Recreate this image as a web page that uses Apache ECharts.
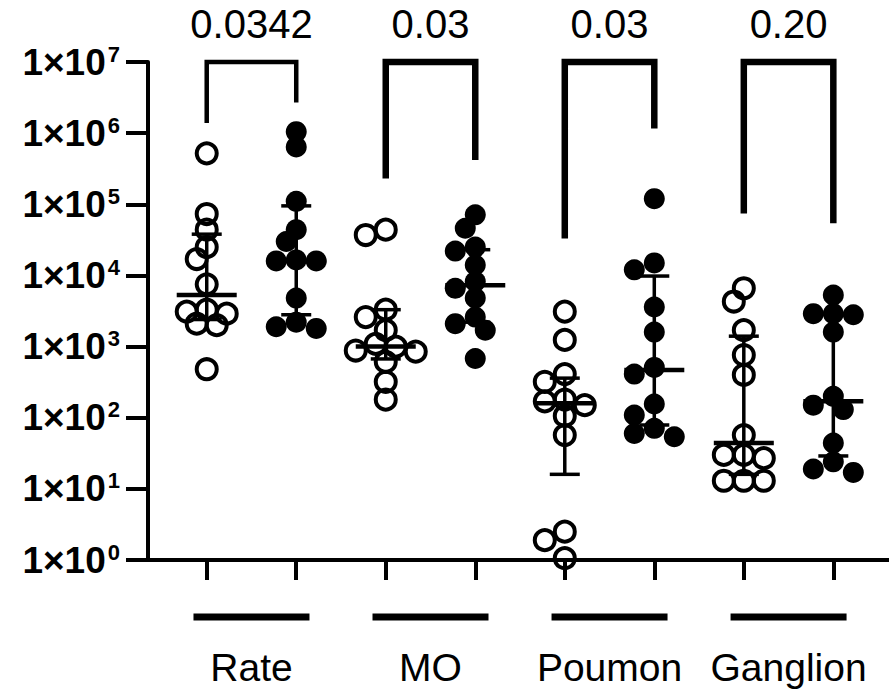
<!DOCTYPE html>
<html><head><meta charset="utf-8">
<script src="https://cdn.jsdelivr.net/npm/echarts@6/dist/echarts.min.js"></script>
<style>html,body{margin:0;padding:0;background:#fff}#c{width:889px;height:691px}</style>
</head><body><div id="c"></div>
<script>
// ---- data ----
const groups = ['Rate', 'MO', 'Poumon', 'Ganglion'];
const pValues = ['0.0342', '0.03', '0.03', '0.20'];
const yTickValues = [1, 10, 100, 1000, 10000, 100000, 1000000, 10000000];

// open circles (first column of each group)
const rateOpen     = [5.2e5, 7.3e4, 4.4e4, 2.5e4, 1.7e4, 7.5e3, 3.3e3, 3.1e3, 2.9e3, 2.1e3, 2.0e3, 480];
const moOpen       = [4.4e4, 3.7e4, 3.3e3, 2.6e3, 1.7e3, 1.09e3, 1.0e3, 880, 850, 610, 320, 180];
const poumonOpen   = [3.1e3, 1.24e3, 410, 320, 180, 170, 150, 106, 57, 2.5, 1.9, 1.06];
const ganglionOpen = [6.6e3, 4.3e3, 1.7e3, 760, 400, 57, 30, 27, 30, 13, 13, 13];
// filled circles (second column of each group)
const rateFilled     = [1.05e6, 6.4e5, 1.1e5, 4.4e4, 3.0e4, 1.65e4, 1.6e4, 1.6e4, 4.8e3, 2.2e3, 1.9e3, 1.8e3];
const moFilled       = [7.1e4, 4.6e4, 2.5e4, 2.2e4, 1.4e4, 8.2e3, 6.6e3, 4.8e3, 2.6e3, 2.1e3, 1.7e3, 680];
const poumonFilled   = [1.2e5, 1.5e4, 1.2e4, 3.6e3, 1.6e3, 510, 410, 156, 109, 71, 60, 54];
const ganglionFilled = [5.3e3, 2.9e3, 2.9e3, 2.8e3, 1.6e3, 200, 150, 130, 44, 24, 19, 17];

// median and interquartile range, per column (open, filled, open, filled ...)
const medians = [5.3e3, 1.6e4, 1.0e3, 7.3e3, 160, 470, 44, 170];
const q1      = [2.4e3, 2.8e3, 670, 2.2e3, 16, 79, 16, 29];
const q3      = [3.8e4, 9.5e4, 3.3e3, 2.3e4, 360, 9.8e3, 1.4e3, 2.9e3];

// significance brackets: leg ends (left / right) and top
const bracketLeftEnd  = [1.39e6, 2.3e5, 3.3e4, 7.4e4];
const bracketRightEnd = [2.7e6, 4.2e5, 1.16e6, 5.4e4];
const bracketTop      = [1e7, 1e7, 1e7, 1e7];

// ---- styles ----
const bracketWidths = [4.5, 6.5, 6.5, 6.5];
const FONT = '"Liberation Sans", Arial, Helvetica, sans-serif';

const openColumns = [rateOpen, moOpen, poumonOpen, ganglionOpen];
const filledColumns = [rateFilled, moFilled, poumonFilled, ganglionFilled];
const colX = (g, k) => g * 2 + k + 1;

const openData = [];
openColumns.forEach((arr, g) => arr.forEach(v => openData.push([colX(g, 0), v])));
const filledData = [];
filledColumns.forEach((arr, g) => arr.forEach(v => filledData.push([colX(g, 1), v])));

const statsData = medians.map((m, i) => [i + 1, m, q1[i], q3[i]]);
const bracketData = groups.map((g, i) => [colX(i, 0), colX(i, 1), bracketLeftEnd[i], bracketRightEnd[i], bracketTop[i], i]);
const groupData = groups.map((g, i) => [colX(i, 0) + 0.5, yTickValues[0], i]);

const chart = echarts.init(document.getElementById('c'), null, {renderer: 'svg'});

const option = {
  animation: false,
  backgroundColor: '#fff',
  grid: {left: 148, top: 62, right: 0, bottom: 131, containLabel: false},
  xAxis: {
    type: 'value', min: 0.344, max: 8.622,
    axisLine: {show: true, onZero: false, lineStyle: {color: '#000', width: 4}},
    axisTick: {show: true, customValues: [1, 2, 3, 4, 5, 6, 7, 8], length: 20, lineStyle: {color: '#000', width: 4}},
    axisLabel: {show: false},
    splitLine: {show: false}
  },
  yAxis: {
    type: 'log', logBase: 10, min: 1, max: 1e7, splitNumber: 7,
    axisLine: {show: true, lineStyle: {color: '#000', width: 4}},
    axisTick: {show: true, length: 22, lineStyle: {color: '#000', width: 4}},
    splitLine: {show: false},
    axisLabel: {
      margin: 28,
      formatter: v => {
        const e = yTickValues.indexOf(v) >= 0 ? yTickValues.indexOf(v) : Math.round(Math.log10(v));
        return '{b|1×10}{s|' + e + '}';
      },
      rich: {
        b: {fontFamily: FONT, fontWeight: 'bold', fontSize: 37, color: '#000', lineHeight: 38},
        s: {fontFamily: FONT, fontWeight: 'bold', fontSize: 22, color: '#000', verticalAlign: 'top', lineHeight: 38, padding: [0, 0, 13, 2]}
      }
    }
  },
  series: [
    {
      type: 'scatter', name: 'open', data: openData, z: 2,
      symbol: 'circle', symbolSize: 20,
      itemStyle: {color: 'rgba(255,255,255,0)', borderColor: '#000', borderWidth: 4, opacity: 1},
      emphasis: {disabled: true}
    },
    {
      type: 'scatter', name: 'filled', data: filledData, z: 2,
      symbol: 'circle', symbolSize: 21,
      itemStyle: {color: '#000', opacity: 1},
      emphasis: {disabled: true}
    },
    {
      type: 'custom', name: 'stats', data: statsData, z: 5,
      encode: {x: 0, y: 1},
      renderItem: (params, api) => {
        const x = api.value(0);
        const pm = api.coord([x, api.value(1)]);
        const p1 = api.coord([x, api.value(2)]);
        const p3 = api.coord([x, api.value(3)]);
        const st = {stroke: '#000', lineWidth: 3.5};
        return {type: 'group', children: [
          {type: 'line', shape: {x1: p1[0], y1: p1[1], x2: p3[0], y2: p3[1]}, style: st},
          {type: 'line', shape: {x1: p1[0] - 15, y1: p1[1], x2: p1[0] + 15, y2: p1[1]}, style: st},
          {type: 'line', shape: {x1: p3[0] - 15, y1: p3[1], x2: p3[0] + 15, y2: p3[1]}, style: st},
          {type: 'line', shape: {x1: pm[0] - 30, y1: pm[1], x2: pm[0] + 30, y2: pm[1]}, style: {stroke: '#000', lineWidth: 4.5}}
        ]};
      }
    },
    {
      type: 'custom', name: 'brackets', data: bracketData, z: 5, clip: false,
      encode: {x: [0, 1], y: [2, 3, 4]},
      renderItem: (params, api) => {
        const i = api.value(5);
        const pl = api.coord([api.value(0), api.value(2)]);
        const ptl = api.coord([api.value(0), api.value(4)]);
        const ptr = api.coord([api.value(1), api.value(4)]);
        const pr = api.coord([api.value(1), api.value(3)]);
        return {type: 'group', children: [
          {type: 'polyline', shape: {points: [pl, ptl, ptr, pr]},
           style: {stroke: '#000', lineWidth: bracketWidths[i], fill: null, lineJoin: 'miter', lineCap: 'butt'}},
          {type: 'text', style: {text: pValues[i], x: (ptl[0] + ptr[0]) / 2, y: ptl[1] - 38,
            align: 'center', verticalAlign: 'middle', fontSize: 40, fontFamily: FONT, fill: '#000'}}
        ]};
      }
    },
    {
      type: 'custom', name: 'groups', data: groupData, z: 5, clip: false,
      encode: {x: 0, y: 1},
      renderItem: (params, api) => {
        const i = api.value(2);
        const p = api.coord([api.value(0), api.value(1)]);
        return {type: 'group', children: [
          {type: 'rect', shape: {x: p[0] - 58, y: p[1] + 53.5, width: 116, height: 7}, style: {fill: '#000'}},
          {type: 'text', style: {text: groups[i], x: p[0], y: p[1] + 107,
            align: 'center', verticalAlign: 'middle', fontSize: 39, fontFamily: FONT, fill: '#000'}}
        ]};
      }
    }
  ]
};
chart.setOption(option);

// beeswarm: spread overlapping points of a column horizontally (pixel space via the axes)
const cands = [0, -10, 10, -20, 20, -30, 30, -40, 40, -50, 50];
function swarm(data, minD) {
  const byCol = {};
  data.forEach((d, i) => { (byCol[d[0]] = byCol[d[0]] || []).push(i); });
  const out = data.map(d => d.slice());
  Object.keys(byCol).forEach(col => {
    const idx = byCol[col].slice().sort((a, b) => data[b][1] - data[a][1]);
    const cx = chart.convertToPixel({xAxisIndex: 0}, +col);
    const placed = [];
    idx.forEach(i => {
      const py = chart.convertToPixel({yAxisIndex: 0}, data[i][1]);
      let off = cands[cands.length - 1];
      for (const c of cands) {
        if (placed.every(p => Math.hypot(p[0] - c, p[1] - py) >= minD)) { off = c; break; }
      }
      placed.push([off, py]);
      out[i][0] = chart.convertFromPixel({xAxisIndex: 0}, cx + off);
    });
  });
  return out;
}
chart.setOption({series: [{name: 'open', data: swarm(openData, 15)}, {name: 'filled', data: swarm(filledData, 15)}]});
</script>
</body></html>
